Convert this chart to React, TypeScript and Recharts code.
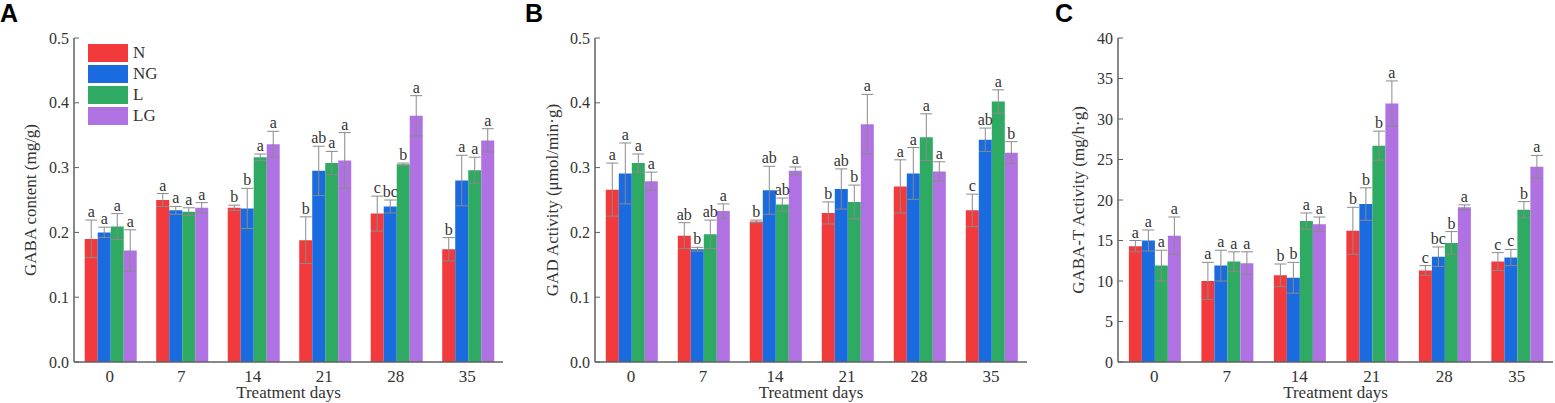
import React from 'react';
import { BarChart, Bar, XAxis, YAxis, ErrorBar, LabelList, Legend } from 'recharts';

const days = ['0', '7', '14', '21', '28', '35'];
const seriesKeys = ['N', 'NG', 'L', 'LG'];
const seriesColors = ['#f23a3d', '#1a6be0', '#2faa63', '#b072e2'];

// Panel A: GABA content (mg/g)
const gabaN = [0.19, 0.25, 0.238, 0.188, 0.229, 0.174];
const gabaNErr = [0.029, 0.01, 0.004, 0.036, 0.027, 0.018];
const gabaNG = [0.2, 0.234, 0.237, 0.295, 0.24, 0.28];
const gabaNGErr = [0.008, 0.006, 0.031, 0.038, 0.01, 0.039];
const gabaL = [0.209, 0.232, 0.316, 0.307, 0.305, 0.296];
const gabaLErr = [0.02, 0.006, 0.005, 0.018, 0.002, 0.02];
const gabaLG = [0.172, 0.238, 0.336, 0.311, 0.38, 0.342];
const gabaLGErr = [0.032, 0.008, 0.02, 0.043, 0.031, 0.018];
const gabaNLet = ['a', 'a', 'b', 'b', 'c', 'b'];
const gabaNGLet = ['a', 'a', 'b', 'ab', 'bc', 'a'];
const gabaLLet = ['a', 'a', 'a', 'a', 'b', 'a'];
const gabaLGLet = ['a', 'a', 'a', 'a', 'a', 'a'];

// Panel B: GAD Activity
const gadN = [0.266, 0.195, 0.217, 0.23, 0.271, 0.234];
const gadNErr = [0.041, 0.02, 0.002, 0.017, 0.041, 0.025];
const gadNG = [0.291, 0.174, 0.265, 0.267, 0.291, 0.343];
const gadNGErr = [0.047, 0.003, 0.037, 0.031, 0.04, 0.018];
const gadL = [0.307, 0.197, 0.243, 0.247, 0.347, 0.402];
const gadLErr = [0.014, 0.022, 0.01, 0.026, 0.036, 0.018];
const gadLG = [0.279, 0.233, 0.295, 0.367, 0.294, 0.323];
const gadLGErr = [0.014, 0.011, 0.006, 0.046, 0.015, 0.017];
const gadNLet = ['a', 'ab', 'b', 'b', 'a', 'c'];
const gadNGLet = ['a', 'b', 'ab', 'ab', 'a', 'ab'];
const gadLLet = ['a', 'ab', 'ab', 'b', 'a', 'a'];
const gadLGLet = ['a', 'a', 'a', 'a', 'a', 'b'];

// Panel C: GABA-T Activity
const gtN = [14.3, 10.0, 10.7, 16.2, 11.3, 12.4];
const gtNErr = [0.7, 2.3, 1.4, 2.9, 0.6, 1.1];
const gtNG = [15.0, 11.9, 10.4, 19.5, 13.0, 12.9];
const gtNGErr = [1.3, 1.9, 1.9, 2.0, 1.2, 1.0];
const gtL = [11.9, 12.4, 17.4, 26.7, 14.7, 18.8];
const gtLErr = [1.9, 1.2, 1.0, 1.8, 1.4, 1.0];
const gtLG = [15.6, 12.2, 17.0, 31.9, 19.1, 24.1];
const gtLGErr = [2.3, 1.4, 0.9, 2.8, 0.3, 1.4];
const gtNLet = ['a', 'a', 'b', 'b', 'c', 'c'];
const gtNGLet = ['a', 'a', 'b', 'b', 'bc', 'c'];
const gtLLet = ['a', 'a', 'a', 'b', 'b', 'b'];
const gtLGLet = ['a', 'a', 'a', 'a', 'a', 'a'];

const ticksAB = [0, 0.1, 0.2, 0.3, 0.4, 0.5];
const ticksC = [0, 5, 10, 15, 20, 25, 30, 35, 40];

const SERIF = '"Liberation Serif", "Times New Roman", serif';
const AXIS_COLOR = '#606060';
const TEXT_COLOR = '#333';
const PLOT_TOP = 38;
const PLOT_BOTTOM = 362;
const PLOT_H = PLOT_BOTTOM - PLOT_TOP;

function buildRows(vals: number[][], errs: number[][], lets: string[][]) {
  return days.map((d, i) => {
    const row: any = { day: d };
    seriesKeys.forEach((k, s) => {
      row[k] = vals[s][i];
      row[k + '_e'] = errs[s][i];
      row[k + '_l'] = lets[s][i];
    });
    return row;
  });
}

const dataA = buildRows(
  [gabaN, gabaNG, gabaL, gabaLG],
  [gabaNErr, gabaNGErr, gabaLErr, gabaLGErr],
  [gabaNLet, gabaNGLet, gabaLLet, gabaLGLet]
);
const dataB = buildRows(
  [gadN, gadNG, gadL, gadLG],
  [gadNErr, gadNGErr, gadLErr, gadLGErr],
  [gadNLet, gadNGLet, gadLLet, gadLGLet]
);
const dataC = buildRows(
  [gtN, gtNG, gtL, gtLG],
  [gtNErr, gtNGErr, gtLErr, gtLGErr],
  [gtNLet, gtNGLet, gtLLet, gtLGLet]
);

type PanelProps = {
  left: number;
  width: number;
  plotLeft: number;
  plotRight: number;
  data: any[];
  max: number;
  ticks: number[];
  fmt: (v: number) => string;
  ylabel: string;
  ylabelX: number;
  letter: string;
  letterX: number;
  showLegend?: boolean;
};

function Panel(p: PanelProps) {
  const margin = { top: PLOT_TOP, right: p.width - p.plotRight, left: 0, bottom: 0 };
  const axisLine = { stroke: AXIS_COLOR, strokeWidth: 1.5 };

  const yTick = (props: any) => {
    const y = Number(props.y);
    const v = props.payload ? props.payload.value : 0;
    return (
      <g>
        <line x1={p.plotLeft} x2={p.plotLeft + 5} y1={y} y2={y} stroke={AXIS_COLOR} strokeWidth={1} />
        <text
          x={p.plotLeft - 5}
          y={y}
          dy="0.35em"
          textAnchor="end"
          fontSize={16}
          fontFamily={SERIF}
          fill={TEXT_COLOR}
        >
          {p.fmt(v)}
        </text>
      </g>
    );
  };

  const yLabel = () => (
    <text
      x={p.ylabelX}
      y={(PLOT_TOP + PLOT_BOTTOM) / 2}
      transform={`rotate(-90, ${p.ylabelX}, ${(PLOT_TOP + PLOT_BOTTOM) / 2})`}
      textAnchor="middle"
      dominantBaseline="central"
      fontSize={17}
      fontFamily={SERIF}
      fill={TEXT_COLOR}
    >
      {p.ylabel}
    </text>
  );

  const xLabel = () => (
    <text
      x={(p.plotLeft + p.plotRight) / 2}
      y={398}
      textAnchor="middle"
      fontSize={17}
      fontFamily={SERIF}
      fill={TEXT_COLOR}
    >
      Treatment days
    </text>
  );

  const letterContent = (key: string) => (props: any) => {
    const x = Number(props.x);
    const y = Number(props.y);
    const w = Number(props.width);
    const idx = props.index;
    const row = p.data[idx];
    if (!row) return null;
    const errPx = (row[key + '_e'] * PLOT_H) / p.max;
    return (
      <text
        x={x + w / 2}
        y={y - errPx - 3}
        textAnchor="middle"
        fontSize={16}
        fontFamily={SERIF}
        fill={TEXT_COLOR}
      >
        {row[key + '_l']}
      </text>
    );
  };

  const legendContent = () => (
    <div style={{ fontFamily: SERIF, fontSize: 17, color: TEXT_COLOR }}>
      {seriesKeys.map((k, i) => (
        <div key={k} style={{ display: 'flex', alignItems: 'center', height: 21 }}>
          <div style={{ width: 40, height: 18, background: seriesColors[i], marginRight: 5 }} />
          <span>{k}</span>
        </div>
      ))}
    </div>
  );

  return (
    <div style={{ position: 'absolute', left: p.left, top: 0, width: p.width, height: 403 }}>
      <BarChart width={p.width} height={403} data={p.data} margin={margin} barCategoryGap="15%" barGap={0}>
        <XAxis
          dataKey="day"
          height={403 - PLOT_BOTTOM}
          interval={0}
          tickLine={false}
          tickSize={6}
          axisLine={axisLine}
          tick={{ fontSize: 17, fontFamily: SERIF, fill: TEXT_COLOR }}
          label={xLabel}
        />
        <XAxis xAxisId="top" orientation="top" dataKey="day" height={0} tick={false} tickLine={false} axisLine={axisLine} />
        <YAxis
          width={p.plotLeft}
          domain={[0, p.max]}
          ticks={p.ticks}
          interval={0}
          tickLine={false}
          axisLine={axisLine}
          tick={yTick}
          label={yLabel}
        />
        <YAxis yAxisId="right" orientation="right" width={0} domain={[0, p.max]} tick={false} tickLine={false} axisLine={axisLine} />
        {p.showLegend && (
          <Legend
            layout="horizontal"
            align="center"
            verticalAlign="middle"
            content={legendContent}
            wrapperStyle={{ left: 88 - p.left, top: 42, width: 'auto', height: 'auto' }}
          />
        )}
        {seriesKeys.map((k, i) => (
          <Bar key={k} dataKey={k} fill={seriesColors[i]} isAnimationActive={false}>
            <ErrorBar dataKey={k + '_e'} width={6} stroke="#8a8a8a" strokeWidth={1} />
            <LabelList dataKey={k + '_l'} content={letterContent(k)} />
          </Bar>
        ))}
      </BarChart>
      <div
        style={{
          position: 'absolute',
          left: p.letterX,
          top: 1,
          fontFamily: '"Liberation Sans", Arial, sans-serif',
          fontWeight: 'bold',
          fontSize: 25,
          lineHeight: '25px',
          color: '#000',
        }}
      >
        {p.letter}
      </div>
    </div>
  );
}

const fmt1 = (v: number) => v.toFixed(1);
const fmt0 = (v: number) => String(v);

export default function App() {
  return (
    <div style={{ position: 'absolute', left: 0, top: 0, width: 1555, height: 403, background: '#fff', overflow: 'hidden' }}>
      <Panel
        left={0}
        width={510}
        plotLeft={74}
        plotRight={503}
        data={dataA}
        max={0.5}
        ticks={ticksAB}
        fmt={fmt1}
        ylabel="GABA content (mg/g)"
        ylabelX={30}
        letter="A"
        letterX={0}
        showLegend
      />
      <Panel
        left={520}
        width={515}
        plotLeft={75}
        plotRight={507}
        data={dataB}
        max={0.5}
        ticks={ticksAB}
        fmt={fmt1}
        ylabel="GAD Activity (μmol/min·g)"
        ylabelX={32}
        letter="B"
        letterX={5}
      />
      <Panel
        left={1035}
        width={520}
        plotLeft={83}
        plotRight={518}
        data={dataC}
        max={40}
        ticks={ticksC}
        fmt={fmt0}
        ylabel="GABA-T Activity (mg/h·g)"
        ylabelX={43}
        letter="C"
        letterX={20}
      />
    </div>
  );
}
